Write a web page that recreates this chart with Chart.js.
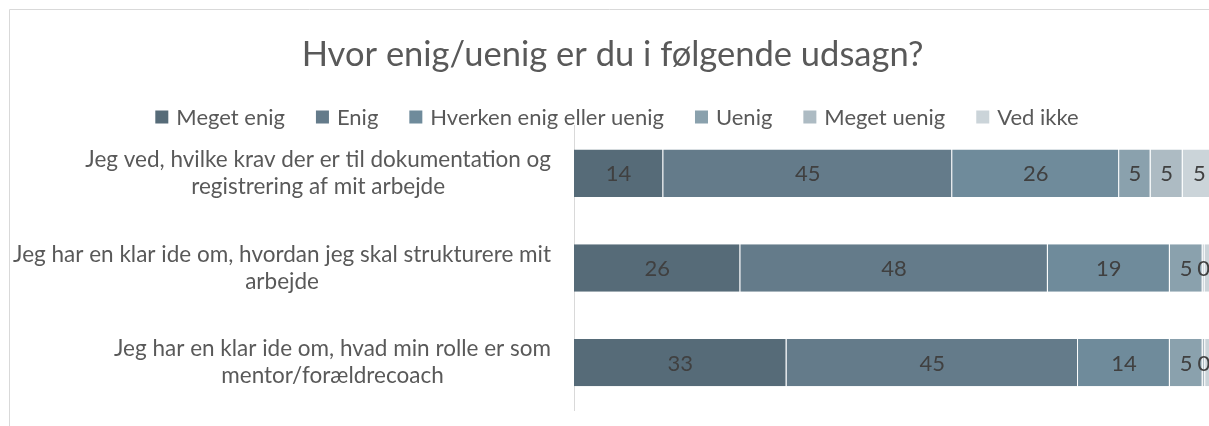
<!DOCTYPE html>
<html>
<head>
<meta charset="utf-8">
<script src="https://cdn.jsdelivr.net/npm/chart.js@4/dist/chart.umd.min.js"></script>
<style>
  html, body { margin: 0; padding: 0; background: #fff; overflow: hidden; }
  #wrap { width: 1209px; height: 426px; }
</style>
</head>
<body>
<div id="wrap"><canvas id="chart"></canvas></div>
<script>
const categories = [
  ["Jeg ved, hvilke krav der er til dokumentation og", "registrering af mit arbejde"],
  ["Jeg har en klar ide om, hvordan jeg skal strukturere mit", "arbejde"],
  ["Jeg har en klar ide om, hvad min rolle er som", "mentor/forældrecoach"],
];
const seriesNames = ["Meget enig", "Enig", "Hverken enig eller uenig", "Uenig", "Meget uenig", "Ved ikke"];
const megetEnig  = [13.9, 25.9, 33.1];
const enig       = [45.0, 47.9, 45.4];
const hverken    = [26.0, 19.0, 14.3];
const uenig      = [4.9, 5.1, 5.1];
const megetUenig = [5.0, 0.3, 0.4];
const vedIkke    = [5.2, 1.8, 1.7];
const colors = ["#566b78", "#647b8a", "#6f8b9b", "#8aa1ad", "#adbbc3", "#cbd4d9"];

const FONT = "Lato, 'Open Sans', sans-serif";
const TEXT = "#595959";
const LABEL_SIZE = 22.5;

const allSeries = [megetEnig, enig, hverken, uenig, megetUenig, vedIkke];

// frame around the chart (only top and left visible)
const framePlugin = {
  id: "frame",
  beforeDraw(chart) {
    const ctx = chart.ctx;
    ctx.save();
    ctx.strokeStyle = "#d9d9d9";
    ctx.lineWidth = 1;
    ctx.beginPath();
    ctx.moveTo(9.5, 426);
    ctx.lineTo(9.5, 9.5);
    ctx.lineTo(1209, 9.5);
    ctx.stroke();
    ctx.restore();
  }
};

// category labels: block right-aligned, lines centered within block
const catLabels = {
  id: "catLabels",
  afterDraw(chart) {
    const ctx = chart.ctx;
    const y = chart.scales.y;
    ctx.save();
    ctx.font = LABEL_SIZE + "px " + FONT;
    ctx.fillStyle = TEXT;
    ctx.textAlign = "center";
    ctx.textBaseline = "middle";
    const right = chart.chartArea.left - 23;
    const lh = 27;
    categories.forEach((lines, i) => {
      const w = Math.max(...lines.map(l => ctx.measureText(l).width));
      const cx = right - w / 2;
      const cy = y.getPixelForValue(i);
      lines.forEach((l, k) => {
        ctx.fillText(l, cx, cy + (k - (lines.length - 1) / 2) * lh);
      });
    });
    ctx.restore();
  }
};

// value labels in the middle of each segment
const valueLabels = {
  id: "valueLabels",
  afterDatasetsDraw(chart) {
    const ctx = chart.ctx;
    const area = chart.chartArea;
    ctx.save();
    ctx.font = "22px " + FONT;
    ctx.fillStyle = "#404040";
    ctx.textAlign = "center";
    ctx.textBaseline = "middle";
    chart.data.datasets.forEach((ds, i) => {
      chart.getDatasetMeta(i).data.forEach((el, j) => {
        const cx = (el.x + el.base) / 2;
        if (cx > area.right - 4) return;
        ctx.fillText(String(Math.round(ds.data[j])), cx, el.y + 1);
      });
    });
    ctx.restore();
  }
};

// legend row
const legendRow = {
  id: "legendRow",
  afterDraw(chart) {
    const ctx = chart.ctx;
    ctx.save();
    ctx.font = "22px " + FONT;
    ctx.textBaseline = "middle";
    ctx.textAlign = "left";
    const box = 13, gapText = 8, gapItem = 31;
    const items = chart.data.datasets.map(ds => ({ text: ds.label, color: ds.backgroundColor, w: ctx.measureText(ds.label).width }));
    const total = items.reduce((s, it) => s + box + gapText + it.w, 0) + gapItem * (items.length - 1);
    let x = 617 - total / 2;
    const cy = 117;
    items.forEach(it => {
      ctx.fillStyle = it.color;
      ctx.fillRect(x, cy - box / 2, box, box);
      ctx.fillStyle = TEXT;
      ctx.fillText(it.text, x + box + gapText, cy + 1);
      x += box + gapText + it.w + gapItem;
    });
    ctx.restore();
  }
};

new Chart(document.getElementById("chart"), {
  type: "bar",
  data: {
    labels: categories,
    datasets: allSeries.map((d, i) => ({
      label: seriesNames[i],
      data: d,
      backgroundColor: colors[i],
      borderColor: "rgba(255,255,255,0.35)",
      borderWidth: { right: 1 },
      borderSkipped: false,
      barPercentage: 0.5,
      categoryPercentage: 1.0,
    })),
  },
  options: {
    indexAxis: "y",
    responsive: true,
    maintainAspectRatio: false,
    animation: false,
    layout: { padding: { left: 16, right: 0, top: 0, bottom: 16 } },
    scales: {
      x: { stacked: true, display: false, min: 0, max: 98.9 },
      y: {
        stacked: true,
        grid: { display: false },
        ticks: { display: false },
        border: { display: true, color: "#d9d9d9", width: 1 },
        afterFit: s => { s.width = 558; },
      },
    },
    plugins: {
      legend: { display: false },
      tooltip: { enabled: false },
      title: {
        display: true,
        text: "Hvor enig/uenig er du i følgende udsagn?",
        color: TEXT,
        font: { family: FONT, size: 34.5, weight: "normal", lineHeight: 1.2 },
        padding: { top: 34, bottom: 50.5 },
      },
    },
  },
  plugins: [framePlugin, catLabels, valueLabels, legendRow],
});
</script>
</body>
</html>
